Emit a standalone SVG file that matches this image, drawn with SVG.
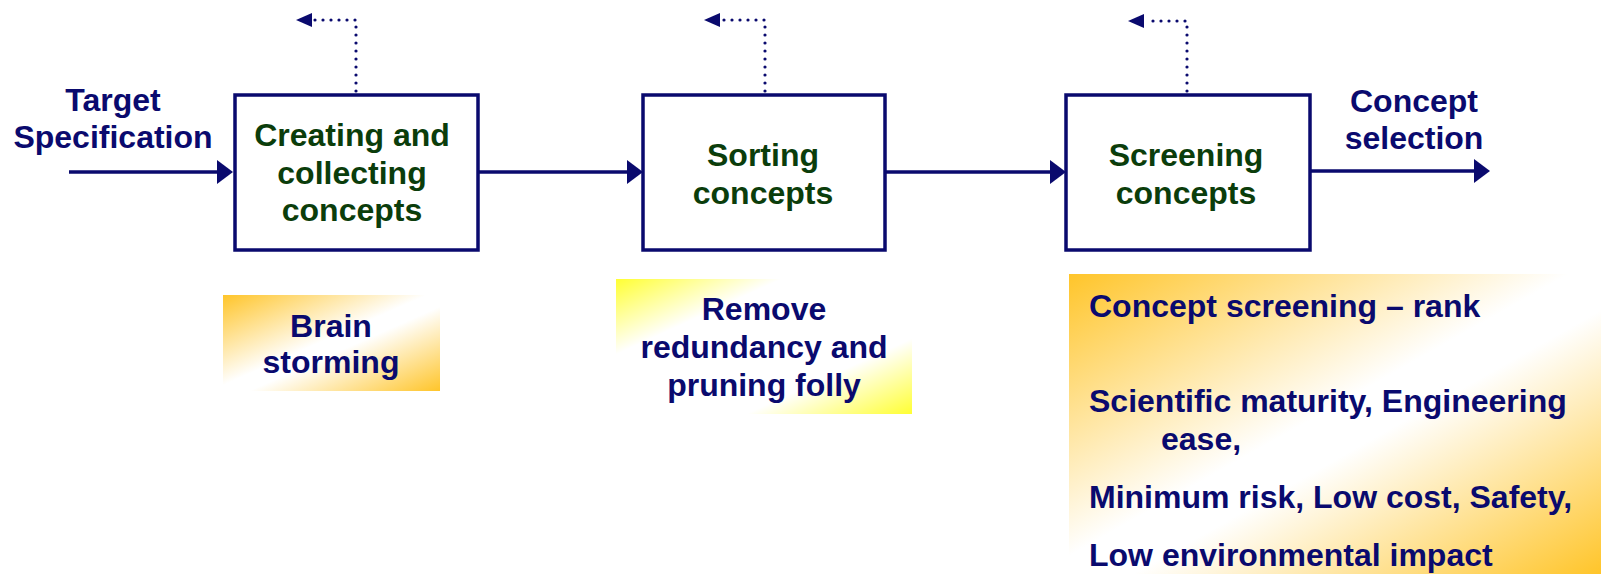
<svg xmlns="http://www.w3.org/2000/svg" width="1601" height="574" viewBox="0 0 1601 574">
<style>
.box{fill:#fff;stroke:#0a0a6e;stroke-width:3.5}
.g{font-family:"Liberation Sans",Arial,sans-serif;font-weight:bold;font-size:32px;fill:#0b3d0b;text-anchor:middle}
.b{font-family:"Liberation Sans",Arial,sans-serif;font-weight:bold;font-size:32px;fill:#0a0a6e}
.c{text-anchor:middle}
.ln{stroke:#0a0a6e;stroke-width:3.5;fill:none}
.dot{stroke:#0a0a6e;stroke-width:3.2;fill:none;stroke-dasharray:0 8;stroke-linecap:round}
.ah{fill:#0a0a6e}
</style>
<defs>
<linearGradient id="org" x1="0" y1="0" x2="1" y2="1">
<stop offset="0" stop-color="#ffc52a"/>
<stop offset="0.47" stop-color="#ffffff"/>
<stop offset="0.56" stop-color="#ffffff"/>
<stop offset="1" stop-color="#ffc52a"/>
</linearGradient>
<linearGradient id="yel" x1="0" y1="0" x2="1" y2="1">
<stop offset="0" stop-color="#ffff33"/>
<stop offset="0.28" stop-color="#ffffff"/>
<stop offset="0.72" stop-color="#ffffff"/>
<stop offset="1" stop-color="#ffff33"/>
</linearGradient>
</defs>
<g id="connectors">
<line class="ln" x1="69" y1="172" x2="218" y2="172"/>
<polygon class="ah" points="233,172 217,160 217,184"/>
<line class="ln" x1="478" y1="172" x2="628" y2="172"/>
<polygon class="ah" points="643,172 627,160 627,184"/>
<line class="ln" x1="885" y1="172" x2="1051" y2="172"/>
<polygon class="ah" points="1066,172 1050,160 1050,184"/>
<line class="ln" x1="1310" y1="171" x2="1475" y2="171"/>
<polygon class="ah" points="1490,171 1474,159 1474,183"/>
<path class="dot" d="M356,91 V20 H314"/>
<polygon class="ah" points="296,20 312,13 312,27"/>
<path class="dot" d="M765,91 V20 H722"/>
<polygon class="ah" points="704,20 720,13 720,27"/>
<path class="dot" d="M1187,91 V21 H1146"/>
<polygon class="ah" points="1128,21 1144,14 1144,28"/>
</g>
<g id="label-target">
<text class="b c" x="113" y="111">Target</text>
<text class="b c" x="113" y="148">Specification</text>
</g>
<g id="label-selection">
<text class="b c" x="1414" y="112">Concept</text>
<text class="b c" x="1414" y="149">selection</text>
</g>
<g id="node-creating">
<rect class="box" x="235" y="95" width="243" height="155"/>
<text class="g" x="352" y="146">Creating and</text>
<text class="g" x="352" y="184">collecting</text>
<text class="g" x="352" y="221">concepts</text>
</g>
<g id="node-sorting">
<rect class="box" x="643" y="95" width="242" height="155"/>
<text class="g" x="763" y="166">Sorting</text>
<text class="g" x="763" y="204">concepts</text>
</g>
<g id="node-screening">
<rect class="box" x="1066" y="95" width="244" height="155"/>
<text class="g" x="1186" y="166">Screening</text>
<text class="g" x="1186" y="204">concepts</text>
</g>
<g id="note-brainstorming">
<rect x="223" y="295" width="217" height="96" fill="url(#org)"/>
<text class="b c" x="331" y="337">Brain</text>
<text class="b c" x="331" y="373">storming</text>
</g>
<g id="note-remove">
<rect x="616" y="279" width="296" height="135" fill="url(#yel)"/>
<text class="b c" x="764" y="320">Remove</text>
<text class="b c" x="764" y="358">redundancy and</text>
<text class="b c" x="764" y="396">pruning folly</text>
</g>
<g id="note-screening">
<rect x="1069" y="274" width="532" height="300" fill="url(#org)"/>
<text class="b" x="1089" y="317">Concept screening – rank</text>
<text class="b" x="1089" y="412">Scientific maturity, Engineering</text>
<text class="b" x="1161" y="450">ease,</text>
<text class="b" x="1089" y="508">Minimum risk, Low cost, Safety,</text>
<text class="b" x="1089" y="566">Low environmental impact</text>
</g>
</svg>
